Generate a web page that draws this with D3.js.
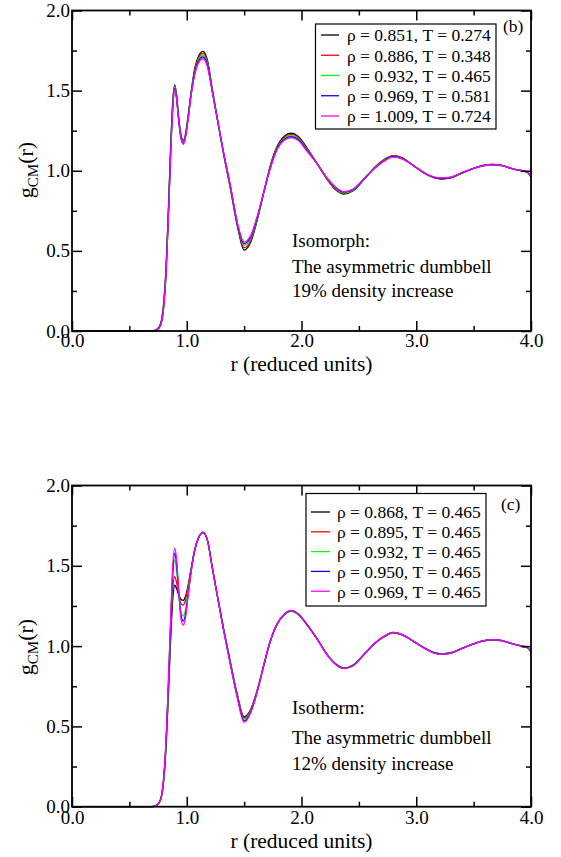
<!DOCTYPE html>
<html><head><meta charset="utf-8">
<script src="https://cdn.jsdelivr.net/npm/d3@7"></script>
<style>
html,body{margin:0;padding:0;background:#fff}
svg{display:block}
</style>
</head><body>
<svg id="c" width="561" height="857"></svg>
<script>
// ---------------- DATA ----------------
const r = [0,0.70,0.74,0.77,0.80,0.82,0.84,0.86,0.88,0.895,0.91,0.93,0.95,0.97,0.99,1.01,1.04,1.07,1.10,1.14,1.18,1.22,1.27,1.32,1.38,1.44,1.50,1.56,1.62,1.67,1.72,1.78,1.85,1.91,1.97,2.05,2.14,2.22,2.30,2.37,2.45,2.55,2.65,2.72,2.80,2.88,2.98,3.08,3.16,3.22,3.30,3.40,3.50,3.58,3.66,3.74,3.84,3.92,3.97,4.00];

// panel (b): isomorph
const isoLabels = ["ρ = 0.851, T = 0.274","ρ = 0.886, T = 0.348","ρ = 0.932, T = 0.465","ρ = 0.969, T = 0.581","ρ = 1.009, T = 0.724"];
const isoColors = ["#000000","#ff0000","#00ff00","#0000ff","#ff00ff"];
const iso0851 = [0,0,0.01,0.04,0.18,0.40,0.75,1.15,1.45,1.535,1.48,1.33,1.22,1.19,1.23,1.33,1.50,1.64,1.71,1.745,1.69,1.52,1.31,1.11,0.89,0.66,0.505,0.56,0.71,0.86,1.01,1.14,1.215,1.235,1.215,1.14,1.04,0.95,0.88,0.855,0.875,0.95,1.03,1.07,1.095,1.08,1.03,0.98,0.955,0.948,0.955,0.985,1.015,1.033,1.04,1.035,1.012,1.0,0.99,0.962];
const iso0886 = [0,0,0.01,0.04,0.175,0.39,0.74,1.14,1.44,1.53,1.475,1.325,1.215,1.185,1.225,1.325,1.495,1.63,1.70,1.733,1.68,1.515,1.31,1.11,0.895,0.665,0.52,0.57,0.715,0.86,1.005,1.135,1.208,1.227,1.208,1.135,1.04,0.952,0.884,0.858,0.878,0.952,1.028,1.067,1.092,1.078,1.03,0.981,0.957,0.95,0.957,0.986,1.015,1.032,1.039,1.034,1.012,1.0,0.99,0.962];
const iso0932 = [0,0,0.01,0.035,0.17,0.38,0.73,1.13,1.43,1.525,1.47,1.32,1.21,1.18,1.22,1.32,1.49,1.62,1.69,1.722,1.67,1.51,1.31,1.11,0.90,0.67,0.535,0.58,0.72,0.86,1.0,1.13,1.202,1.22,1.202,1.13,1.04,0.954,0.888,0.862,0.88,0.953,1.026,1.064,1.09,1.076,1.03,0.982,0.958,0.952,0.958,0.987,1.015,1.031,1.038,1.033,1.012,1.0,0.99,0.962];
const iso0969 = [0,0,0.008,0.033,0.16,0.37,0.72,1.12,1.42,1.515,1.46,1.315,1.205,1.172,1.215,1.315,1.485,1.61,1.68,1.71,1.66,1.505,1.31,1.115,0.905,0.675,0.545,0.59,0.725,0.862,0.998,1.125,1.196,1.213,1.196,1.125,1.04,0.956,0.892,0.866,0.883,0.954,1.024,1.062,1.088,1.075,1.03,0.983,0.959,0.953,0.959,0.988,1.015,1.031,1.037,1.033,1.012,1.0,0.99,0.962];
const iso1009 = [0,0,0.006,0.03,0.15,0.36,0.70,1.10,1.41,1.508,1.455,1.31,1.20,1.165,1.21,1.31,1.48,1.60,1.67,1.699,1.65,1.50,1.31,1.12,0.91,0.68,0.555,0.60,0.73,0.864,0.995,1.12,1.19,1.207,1.19,1.12,1.04,0.958,0.896,0.87,0.886,0.955,1.022,1.06,1.085,1.073,1.03,0.984,0.96,0.955,0.96,0.989,1.015,1.03,1.036,1.032,1.012,1.0,0.99,0.962];

// panel (c): isotherm
const isoTLabels = ["ρ = 0.868, T = 0.465","ρ = 0.895, T = 0.465","ρ = 0.932, T = 0.465","ρ = 0.950, T = 0.465","ρ = 0.969, T = 0.465"];
const isoTColors = ["#000000","#ff0000","#00ff00","#0000ff","#ff00ff"];
const isoT0868 = [0,0,0.01,0.04,0.17,0.38,0.70,1.05,1.31,1.38,1.36,1.32,1.29,1.285,1.31,1.37,1.49,1.60,1.67,1.706,1.66,1.50,1.30,1.11,0.90,0.70,0.56,0.61,0.74,0.875,1.01,1.125,1.195,1.218,1.198,1.13,1.04,0.952,0.888,0.864,0.882,0.952,1.022,1.058,1.082,1.068,1.028,0.985,0.959,0.952,0.959,0.986,1.014,1.031,1.038,1.034,1.014,1.0,0.99,0.965];
const isoT0895 = [0,0,0.01,0.04,0.175,0.39,0.72,1.08,1.37,1.432,1.40,1.32,1.265,1.256,1.29,1.36,1.485,1.60,1.67,1.707,1.66,1.50,1.30,1.11,0.90,0.695,0.553,0.605,0.74,0.876,1.011,1.126,1.197,1.219,1.199,1.131,1.04,0.951,0.887,0.863,0.881,0.952,1.023,1.059,1.083,1.069,1.028,0.985,0.958,0.951,0.958,0.986,1.014,1.032,1.038,1.034,1.014,1.0,0.99,0.965];
const isoT0932 = [0,0,0.01,0.04,0.18,0.40,0.74,1.12,1.45,1.535,1.48,1.33,1.215,1.187,1.23,1.33,1.48,1.60,1.67,1.708,1.66,1.50,1.30,1.11,0.895,0.69,0.545,0.60,0.735,0.877,1.012,1.127,1.198,1.22,1.2,1.132,1.04,0.95,0.886,0.862,0.88,0.952,1.024,1.06,1.084,1.07,1.028,0.984,0.957,0.95,0.957,0.986,1.014,1.032,1.039,1.035,1.014,1.0,0.99,0.965];
const isoT0950 = [0,0,0.01,0.04,0.185,0.41,0.76,1.15,1.49,1.578,1.52,1.34,1.19,1.156,1.20,1.31,1.475,1.60,1.67,1.709,1.66,1.50,1.30,1.105,0.89,0.685,0.535,0.595,0.733,0.878,1.013,1.128,1.199,1.221,1.201,1.133,1.04,0.949,0.885,0.861,0.879,0.952,1.025,1.061,1.085,1.071,1.028,0.984,0.956,0.949,0.956,0.986,1.014,1.033,1.04,1.035,1.014,1.0,0.99,0.965];
const isoT0969 = [0,0,0.01,0.04,0.19,0.42,0.78,1.18,1.52,1.61,1.55,1.35,1.17,1.13,1.18,1.30,1.47,1.60,1.67,1.71,1.66,1.50,1.30,1.10,0.885,0.68,0.525,0.59,0.73,0.879,1.014,1.129,1.2,1.222,1.202,1.134,1.04,0.948,0.884,0.86,0.878,0.952,1.026,1.062,1.086,1.072,1.028,0.983,0.955,0.948,0.955,0.986,1.014,1.033,1.04,1.035,1.014,1.0,0.99,0.965];

const xTicks = [0,1,2,3,4];
const xMinorTicks = [0.5,1.5,2.5,3.5];
const yTicks = [0,0.5,1,1.5,2];
const yMinorTicks = [0.25,0.75,1.25,1.75];
const xTitle = "r (reduced units)";
const isoNotes = ["Isomorph:","The asymmetric dumbbell","19% density increase"];
const isoTNotes = ["Isotherm:","The asymmetric dumbbell","12% density increase"];

// ---------------- DRAW ----------------
const FONT = "'Liberation Serif', 'Times New Roman', Times, 'DejaVu Serif', serif";
const svg = d3.select("#c");
const fmt = d3.format(".1f");

function txt(sel, size){
  return sel.attr("font-family", FONT).attr("font-size", size).attr("fill", "#000");
}

function drawPanel(p){
  const x = d3.scaleLinear().domain([0,4]).range([p.left,p.right]);
  const y = d3.scaleLinear().domain([0,2]).range([p.bottom,p.top]);
  const g = svg.append("g");

  const line = d3.line().x((d,i)=>x(r[i])).y(d=>y(d)).curve(d3.curveMonotoneX);
  p.series.forEach((s,k)=>{
    g.append("path").attr("d",line(s)).attr("fill","none")
      .attr("stroke",p.colors[k]).attr("stroke-width",1.3).attr("stroke-linejoin","round");
  });

  function addAxis(gen, tx, ty){
    const a = g.append("g").attr("transform",`translate(${tx},${ty})`).call(gen);
    a.select(".domain").remove();
    a.attr("font-family", FONT).attr("font-size", 19);
    a.selectAll("line").attr("stroke","#000").attr("stroke-width",1.5);
    a.selectAll("text").attr("font-family", FONT).attr("font-size", 19).attr("fill","#000");
    return a;
  }
  addAxis(d3.axisBottom(x).tickValues(xTicks).tickSizeInner(-10).tickSizeOuter(0).tickPadding(p.xpad).tickFormat(fmt),0,p.bottom);
  addAxis(d3.axisBottom(x).tickValues(xMinorTicks).tickSizeInner(-5).tickSizeOuter(0).tickFormat(""),0,p.bottom);
  addAxis(d3.axisTop(x).tickValues(xTicks).tickSizeInner(-10).tickSizeOuter(0).tickFormat(""),0,p.top);
  addAxis(d3.axisTop(x).tickValues(xMinorTicks).tickSizeInner(-5).tickSizeOuter(0).tickFormat(""),0,p.top);
  addAxis(d3.axisLeft(y).tickValues(yTicks).tickSizeInner(-10).tickSizeOuter(0).tickPadding(2).tickFormat(fmt),p.left,0);
  addAxis(d3.axisLeft(y).tickValues(yMinorTicks).tickSizeInner(-5).tickSizeOuter(0).tickFormat(""),p.left,0);
  addAxis(d3.axisRight(y).tickValues(yTicks).tickSizeInner(-10).tickSizeOuter(0).tickFormat(""),p.right,0);
  addAxis(d3.axisRight(y).tickValues(yMinorTicks).tickSizeInner(-5).tickSizeOuter(0).tickFormat(""),p.right,0);

  g.append("rect").attr("x",p.left).attr("y",p.top).attr("width",p.right-p.left).attr("height",p.bottom-p.top)
    .attr("fill","none").attr("stroke","#000").attr("stroke-width",1.8);

  // legend
  const L = p.legend;
  const lg = g.append("g");
  lg.append("rect").attr("x",L.x).attr("y",L.y).attr("width",L.w).attr("height",L.h)
    .attr("fill","#fff").attr("stroke","#000").attr("stroke-width",1.2);
  p.labels.forEach((t,i)=>{
    const yy = L.row0 + i*L.dy;
    lg.append("line").attr("x1",L.lx1).attr("x2",L.lx2).attr("y1",yy).attr("y2",yy)
      .attr("stroke",p.colors[i]).attr("stroke-width",1.3);
    txt(lg.append("text"),17.5).attr("x",L.tx).attr("y",yy).attr("dy","0.36em").text(t);
  });
  txt(g.append("text"),17.5).attr("x",p.tag.x).attr("y",p.tag.y).text(p.tag.t);

  // notes
  p.notes.forEach((t,i)=>{
    txt(g.append("text"),19).attr("x",p.noteX).attr("y",p.noteY[i]).text(t);
  });

  // x title
  txt(g.append("text"),21.5).attr("x",(p.left+p.right)/2).attr("y",p.xTitleY).attr("text-anchor","middle").text(xTitle);

  // y title
  const yt = txt(g.append("text"),22).attr("transform",`translate(${p.yTitleX},${p.yTitleY}) rotate(-90)`)
    .attr("text-anchor","middle");
  yt.append("tspan").text("g");
  yt.append("tspan").attr("dy",5).attr("font-size",15).text("CM");
  yt.append("tspan").attr("dy",-5).text("(r)");
}

drawPanel({
  left:72, right:531, top:10.5, bottom:331, xpad:2,
  series:[iso0851,iso0886,iso0932,iso0969,iso1009], colors:isoColors, labels:isoLabels,
  legend:{x:315.5,y:24,w:180.5,h:105,row0:35,dy:20.25,lx1:321,lx2:339,tx:347},
  tag:{x:503,y:32,t:"(b)"},
  notes:isoNotes, noteX:292, noteY:[247,272.5,297],
  xTitleY:370.5, yTitleX:33, yTitleY:170
});
drawPanel({
  left:72, right:531, top:485.5, bottom:806.7, xpad:4,
  series:[isoT0868,isoT0895,isoT0932,isoT0950,isoT0969], colors:isoTColors, labels:isoTLabels,
  legend:{x:306,y:493.5,w:180,h:112.5,row0:512,dy:19.8,lx1:311,lx2:330,tx:337},
  tag:{x:501,y:510,t:"(c)"},
  notes:isoTNotes, noteX:292, noteY:[714,744,770],
  xTitleY:848, yTitleX:33, yTitleY:647
});
</script>
</body></html>
